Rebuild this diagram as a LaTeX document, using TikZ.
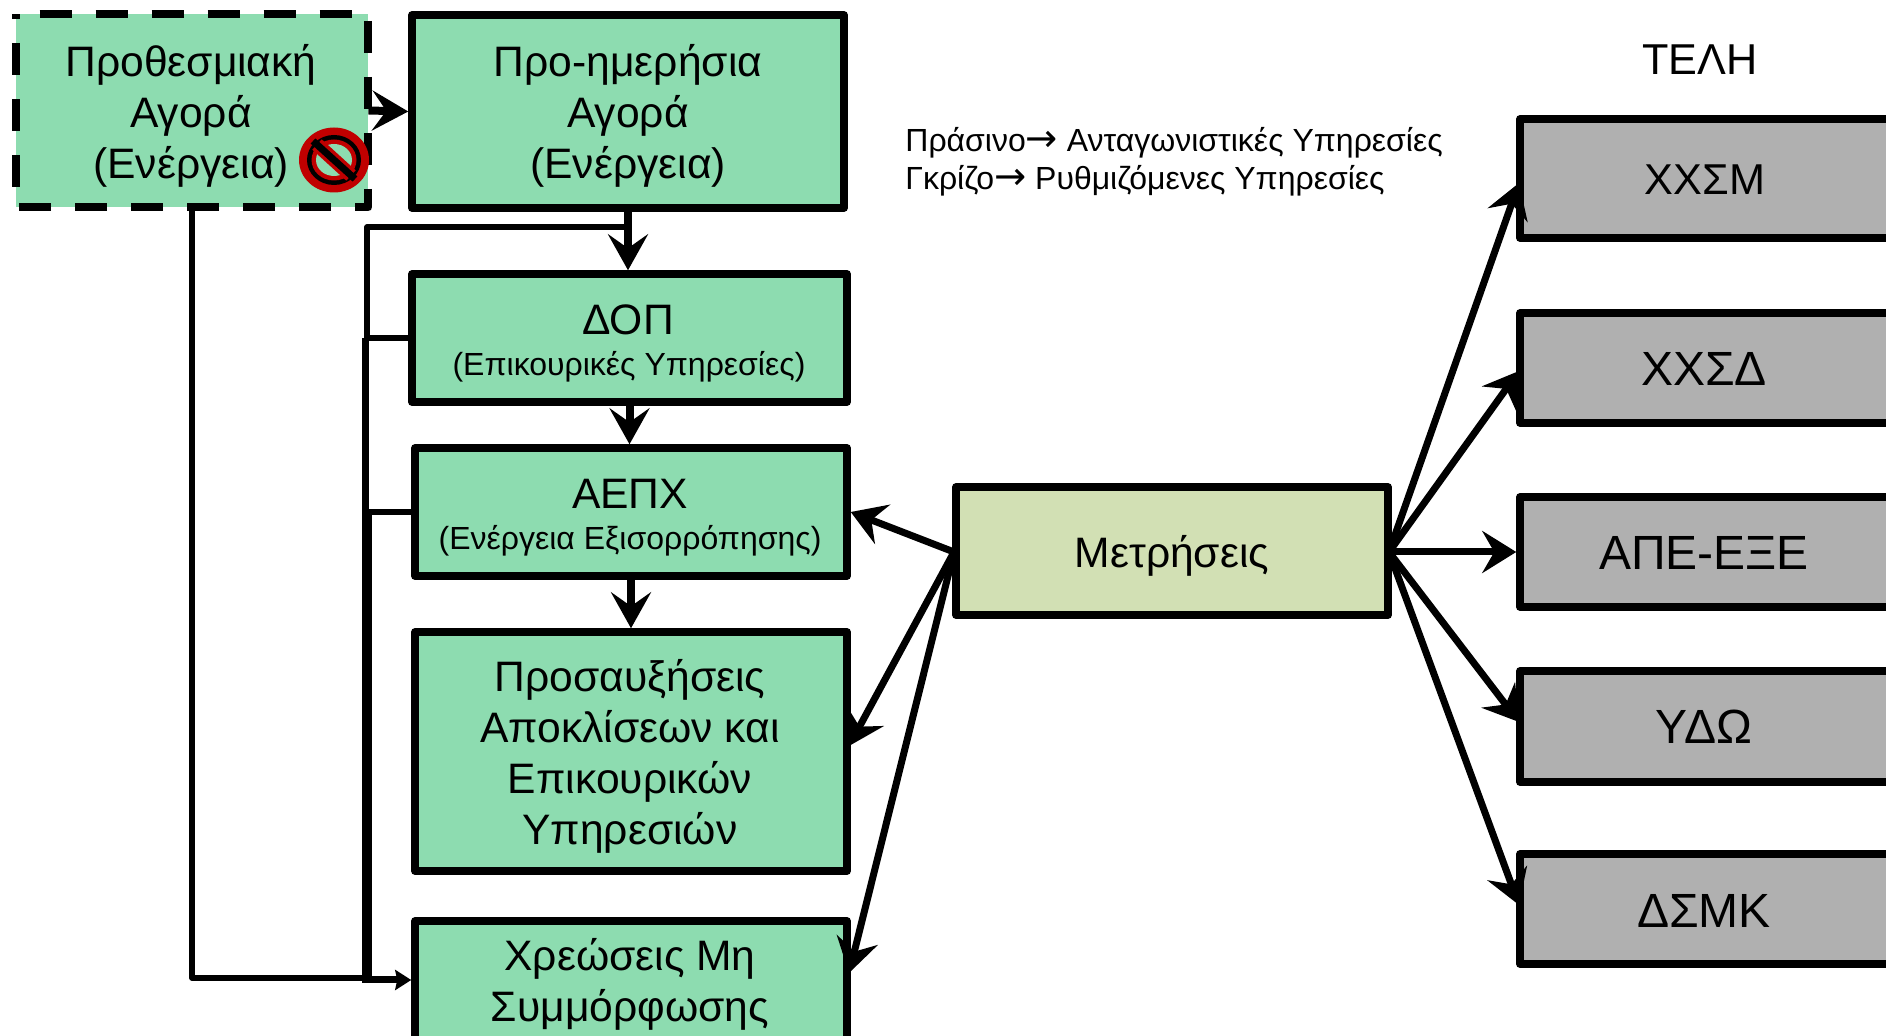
\documentclass[tikz,border=0pt]{standalone}
\usepackage{fontspec}
\setmainfont{Liberation Sans}
\newfontfamily\arrowfont[Scale=1.2]{DejaVu Sans}
\usetikzlibrary{arrows.meta,calc,shapes.geometric}
\definecolor{mkt}{HTML}{8DDCB0}
\definecolor{reg}{HTML}{B0B0B0}
\definecolor{mtr}{HTML}{D2E0B4}
\definecolor{ban}{HTML}{C00000}
\tikzset{
 x=0.5pt,y=-0.5pt,
 bx/.style={draw=black,line width=3.75pt,line join=round,inner sep=0pt,align=center},
 greenbox/.style={bx,fill=mkt},
 greybox/.style={bx,fill=reg},
 small/.style={font=\fontsize{16}{19}\selectfont},
 big/.style={-{Stealth[length=18pt,width=20pt,inset=7pt]},line width=4pt},
 mid/.style={-{Stealth[length=17pt,width=21pt,inset=6pt]},line width=3.5pt},
 tiny/.style={-{Stealth[length=8pt,width=10pt,inset=1pt]},line width=3.5pt},
 thinl/.style={line width=2.6pt,line join=round},
 lab/.style={inner sep=0pt,align=center,font=\fontsize{21.3}{25.5}\selectfont},
 glab/.style={inner sep=0pt,align=center,font=\fontsize{24}{28}\selectfont},
 leg/.style={inner sep=0pt,align=left,anchor=north west,font=\fontsize{16}{19}\selectfont},
}
\newcommand{\bxat}[6]{\node[#1,minimum width=(#5-#3)*0.5pt,minimum height=(#6-#4)*0.5pt] (#2) at ({(#3+#5)/2},{(#4+#6)/2}) {};}
\newcommand{\legarrow}{{\arrowfont →}}
\begin{document}
\begin{tikzpicture}
\useasboundingbox (0,0) rectangle (1886,1036);
\clip (0,0) rectangle (1886,1036);
% boxes
\bxat{fill=mkt,inner sep=0pt}{fwd}{16}{14}{368}{207}
\draw[line width=4pt,dash pattern=on 16pt off 12pt,dash phase=16pt,line join=round]
 (fwd.north west) -- (fwd.north east) -- (fwd.south east) -- (fwd.south west) -- cycle;
\bxat{greenbox}{dam}{412}{15}{844}{208}
\bxat{greenbox}{dop}{412}{274}{847}{402}
\bxat{greenbox}{aep}{415}{448}{847}{576}
\bxat{greenbox}{pro}{415}{632}{847}{871}
\bxat{greenbox}{xre}{415}{921}{847}{1060}
\bxat{fill=mtr,bx}{met}{956}{487}{1388}{615}
\bxat{greybox}{xsm}{1520}{119}{1920}{238}
\bxat{greybox}{xsd}{1520}{313}{1920}{423}
\bxat{greybox}{ape}{1520}{497}{1920}{607}
\bxat{greybox}{ydo}{1520}{671}{1920}{782}
\bxat{greybox}{dsk}{1520}{854}{1920}{964}
% labels
\node[lab] (t1) at (191,115.5) {Προθεσμιακή\\Αγορά\\(Ενέργεια)};
\node[lab] (t2) at (628,115.5) {Προ-ημερήσια\\Αγορά\\(Ενέργεια)};
\node[lab] (t3) at (628,320) {ΔΟΠ};
\node[lab,small] (t4) at (629,366.5) {(Επικουρικές Υπηρεσίες)};
\node[lab] (t5) at (630,494) {ΑΕΠΧ};
\node[lab,small] (t6) at (630,540.5) {(Ενέργεια Εξισορρόπησης)};
\node[lab] (t7) at (630,756.5) {Προσαυξήσεις\\Αποκλίσεων και\\Επικουρικών\\Υπηρεσιών};
\node[lab] (t8) at (630,984.5) {Χρεώσεις Μη\\Συμμόρφωσης};
\node[lab] (t9) at (1172,555.5) {Μετρήσεις};
\node[lab,font=\fontsize{21.6}{25}\selectfont] (t10) at (1705,180) {ΧΧΣΜ};
\node[glab] (t11) at (1704,369) {ΧΧΣΔ};
\node[glab] (t12) at (1704,553) {ΑΠΕ-ΕΞΕ};
\node[glab] (t13) at (1704,727) {ΥΔΩ};
\node[glab] (t14) at (1704,911) {ΔΣΜΚ};
\node[lab,font=\fontsize{21.6}{25}\selectfont] (t15) at (1700,60) {ΤΕΛΗ};
\node[leg] (l1) at (905,127) {Πράσινο\legarrow{} Ανταγωνιστικές Υπηρεσίες};
\node[leg] (l2) at (905,165) {Γκρίζο\legarrow{} Ρυθμιζόμενες Υπηρεσίες};
% ban sign
\node[ellipse,fill=ban,inner sep=0pt,minimum width=35pt,minimum height=32.5pt] (banc) at (334,160) {};
\fill[black] (banc) ellipse [x radius=27,y radius=25];
\fill[ban] (banc) ellipse [x radius=22.5,y radius=20.5];
\fill[mkt] (banc) ellipse [x radius=18,y radius=16];
\coordinate (b1) at ($(banc)+(-17,-15.5)$);
\coordinate (b2) at ($(banc)+(17,15.5)$);
\draw[ban,line width=7pt] (b1) -- (b2);
\draw[black,line width=3.5pt] ($(banc)+(-21,-19)$) -- ($(banc)+(21,19)$);
% left connectors
\coordinate (fork) at (628,227);
\coordinate (low) at (366,978);
\coordinate (lowb) at (362,980);
\draw[line width=2.75pt,line join=round] (fwd.south) -- (fwd.south |- low) -- (low);
\draw[thinl] (fork) -- (367,227) -- (367,338);
\draw[thinl] (dop.west) -- (367,338);
\draw[thinl] (aep.west) -- (369,512);
\draw[line width=3.75pt,line join=round] (365.5,338) -- (365.5,512);
\draw[line width=5pt] (366.7,512) -- (366.7,983);
\draw[tiny] (lowb) -- (xre.west |- lowb);
\draw[big] (fwd.east) -- (dam.west);
\draw[big] (628,208) -- (dop.north -| 628,0);
\draw[big] (dop.south) -- (aep.north -| dop.south);
\draw[big] (aep.south) -- (pro.north);
% measurement connectors
\coordinate (ml) at (954,552);
\coordinate (mr) at (1389,552);
\draw[mid] (ml) -- (aep.east);
\draw[mid] (ml) -- (849,746);
\draw[mid] (ml) -- (849,973);
\draw[mid] (mr) -- (1519,183);
\draw[mid] (mr) -- (1519,371);
\draw[mid] (mr) -- (ape.west);
\draw[mid] (mr) -- (1519,722);
\draw[mid] (mr) -- (1519,905);
\end{tikzpicture}
\end{document}
